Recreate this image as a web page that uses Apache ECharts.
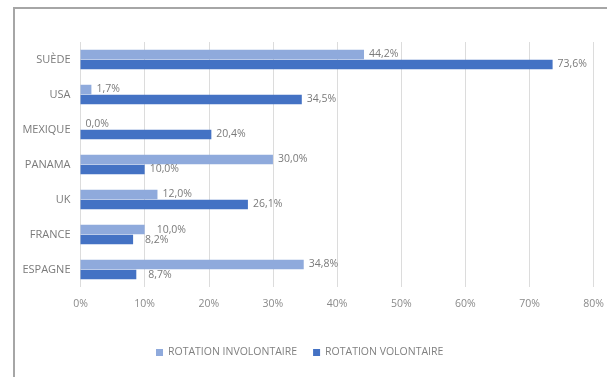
<!DOCTYPE html>
<html>
<head>
    <meta charset="utf-8">
    <title>Rotation</title>
    <style>
        html, body { margin: 0; padding: 0; background: #fff; }
        #chart { width: 607px; height: 377px; }
    </style>
</head>
<body>
    <div id="chart"></div>
    <script src="https://cdn.jsdelivr.net/npm/echarts@6/dist/echarts.min.js"></script>
    <script>
        // données
        var pays = ['SUÈDE', 'USA', 'MEXIQUE', 'PANAMA', 'UK', 'FRANCE', 'ESPAGNE'];
        var involontaire = [44.2, 1.7, 0.0, 30.0, 12.0, 10.0, 34.8];
        var volontaire = [73.6, 34.5, 20.4, 10.0, 26.1, 8.2, 8.7];
        var ticks = ['0%', '10%', '20%', '30%', '40%', '50%', '60%', '70%', '80%'];

        var chart = echarts.init(document.getElementById('chart'));
        var font = 'Open Sans, sans-serif';

        function fmt(p) {
            return p.value.toFixed(1).replace('.', ',') + '%';
        }

        // étiquettes décalées comme dans Excel (France, Espagne)
        function items(values, shifted) {
            return values.map(function (v, i) {
                if (shifted.indexOf(i) < 0) return v;
                return { value: v, label: { distance: 12, offset: [0, 1] } };
            });
        }

        var option = {
            animation: false,
            textStyle: { fontFamily: font },
            grid: { left: 80.5, right: 12.5, top: 42, bottom: 90 },
            graphic: [{
                type: 'polyline',
                shape: { points: [[14, 377], [14, 8], [607, 8]] },
                style: { stroke: '#a6a6a6', lineWidth: 2, fill: null }
            }],
            legend: {
                bottom: 14,
                left: 151,
                itemWidth: 7,
                itemHeight: 7,
                itemGap: 16,
                icon: 'rect',
                textStyle: { color: '#808080', fontSize: 10.5, fontFamily: font },
                data: ['ROTATION INVOLONTAIRE', 'ROTATION VOLONTAIRE']
            },
            xAxis: {
                type: 'value',
                min: 0,
                max: 80,
                interval: 10,
                axisLine: { show: false },
                axisTick: { show: false },
                splitLine: { lineStyle: { color: '#dcdcdc', width: 1 } },
                axisLabel: {
                    color: '#8a8a8a',
                    fontSize: 10.5,
                    margin: 12,
                    formatter: function (v) { return ticks[v / 10]; }
                }
            },
            yAxis: {
                type: 'category',
                data: pays,
                inverse: true,
                axisLine: { show: false },
                axisTick: { show: false },
                axisLabel: { color: '#7a7a7a', fontSize: 11, margin: 10 }
            },
            series: [
                {
                    name: 'ROTATION INVOLONTAIRE',
                    type: 'bar',
                    data: items(involontaire, [5]),
                    barWidth: 9.5,
                    barGap: '5%',
                    itemStyle: { color: '#8faadc' },
                    label: {
                        show: true,
                        position: 'right',
                        distance: 5,
                        color: '#7a7a7a',
                        fontSize: 10.5,
                        formatter: fmt
                    }
                },
                {
                    name: 'ROTATION VOLONTAIRE',
                    type: 'bar',
                    data: items(volontaire, [5, 6]),
                    barWidth: 9.5,
                    itemStyle: { color: '#4472c4' },
                    label: {
                        show: true,
                        position: 'right',
                        distance: 5,
                        color: '#7a7a7a',
                        fontSize: 10.5,
                        formatter: fmt
                    }
                }
            ]
        };

        chart.setOption(option);
    </script>
</body>
</html>
